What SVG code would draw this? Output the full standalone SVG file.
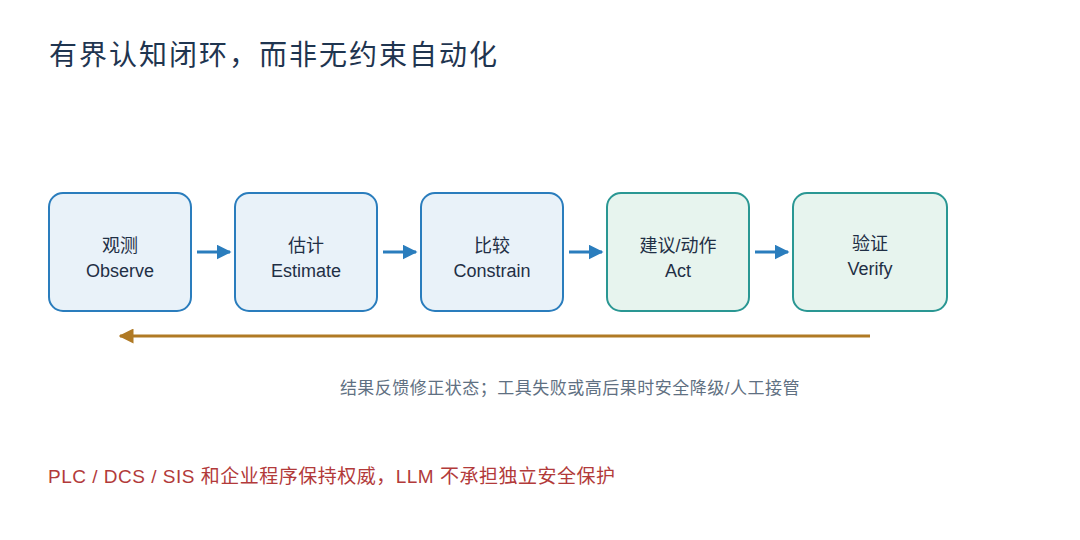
<svg xmlns="http://www.w3.org/2000/svg" width="1080" height="540" viewBox="0 0 1080 540">
<style>
text{font-family:"Liberation Sans","Noto Sans CJK SC",sans-serif}
.b{fill:#e9f2f9;stroke:#2a7dbd;stroke-width:2}
.g{fill:#e7f4ee;stroke:#2a9793;stroke-width:2}
.l{font-size:18px;fill:#1f2f45;text-anchor:middle}
</style>
<defs>
<marker id="a" viewBox="0 0 10 10" refX="9" refY="5" markerWidth="5" markerHeight="5" orient="auto"><path d="M0,0L10,5L0,10z" fill="#2a7dbd"/></marker>
<marker id="o" viewBox="0 0 10 10" refX="9" refY="5" markerWidth="5" markerHeight="5" orient="auto"><path d="M0,0L10,5L0,10z" fill="#b07a25"/></marker>
</defs>
<rect width="1080" height="540" fill="#fff"/>
<text x="49" y="65" font-size="28" fill="#1f3550" letter-spacing="2">有界认知闭环，而非无约束自动化</text>
<g id="n1"><rect class="b" x="49" y="193" width="142" height="118" rx="14"/><text class="l" x="120" y="252">观测</text><text class="l" x="120" y="277">Observe</text></g>
<g id="n2"><rect class="b" x="235" y="193" width="142" height="118" rx="14"/><text class="l" x="306" y="252">估计</text><text class="l" x="306" y="277">Estimate</text></g>
<g id="n3"><rect class="b" x="421" y="193" width="142" height="118" rx="14"/><text class="l" x="492" y="252">比较</text><text class="l" x="492" y="277">Constrain</text></g>
<g id="n4"><rect class="g" x="607" y="193" width="142" height="118" rx="14"/><text class="l" x="678" y="252">建议/动作</text><text class="l" x="678" y="277">Act</text></g>
<g id="n5"><rect class="g" x="793" y="193" width="154" height="118" rx="14"/><text class="l" x="870" y="250">验证</text><text class="l" x="870" y="275">Verify</text></g>
<g id="connectors" stroke-width="3">
<line x1="197" y1="252" x2="230" y2="252" stroke="#2a7dbd" marker-end="url(#a)"/>
<line x1="383" y1="252" x2="416" y2="252" stroke="#2a7dbd" marker-end="url(#a)"/>
<line x1="569" y1="252" x2="602" y2="252" stroke="#2a7dbd" marker-end="url(#a)"/>
<line x1="755" y1="252" x2="788" y2="252" stroke="#2a7dbd" marker-end="url(#a)"/>
<line x1="870" y1="336" x2="120" y2="336" stroke="#b07a25" marker-end="url(#o)"/>
</g>
<text x="570" y="394" font-size="17" fill="#5f7082" text-anchor="middle" letter-spacing="0.5">结果反馈修正状态；工具失败或高后果时安全降级/人工接管</text>
<text x="48" y="483" font-size="19" fill="#b23a3a" letter-spacing="0.5">PLC / DCS / SIS 和企业程序保持权威，LLM 不承担独立安全保护</text>
</svg>
